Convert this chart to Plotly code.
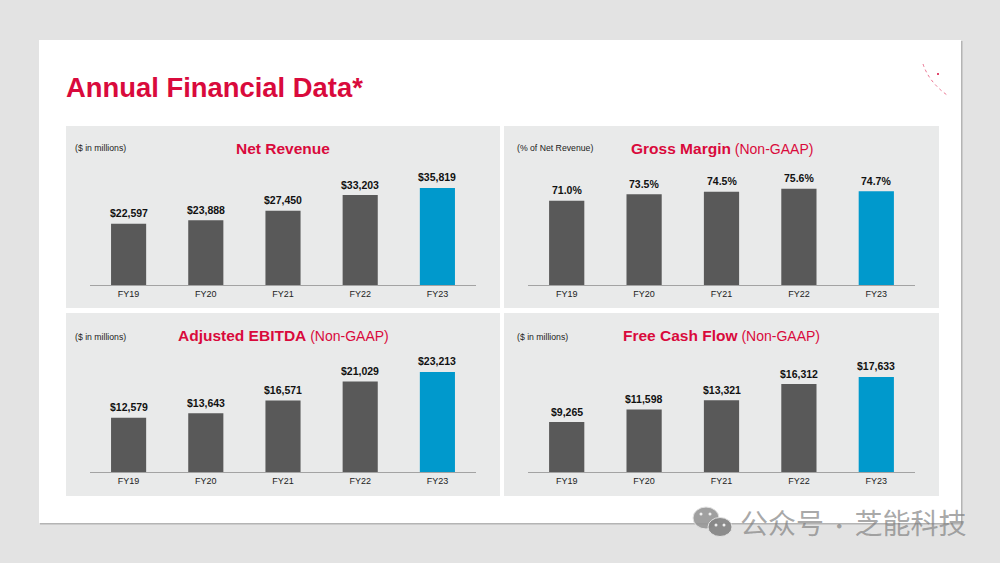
import plotly.graph_objects as go

W, H = 1000, 563

fiscal_years = ["FY19", "FY20", "FY21", "FY22", "FY23"]
net_revenue = [22597, 23888, 27450, 33203, 35819]
gross_margin = [71.0, 73.5, 74.5, 75.6, 74.7]
adjusted_ebitda = [12579, 13643, 16571, 21029, 23213]
free_cash_flow = [9265, 11598, 13321, 16312, 17633]

FONT = "Liberation Sans"
RED = "#d90a3c"
GREY = "#595959"
BLUE = "#0099cc"
PANEL = "#e9eaea"
bar_colors = [GREY, GREY, GREY, GREY, BLUE]


def px(x):
    return x / W


def py(y):
    return 1 - y / H


def rect(x0, y0, x1, y1, color):
    return dict(type="rect", xref="paper", yref="paper", x0=px(x0), x1=px(x1),
                y0=py(y0), y1=py(y1), fillcolor=color, line=dict(width=0), layer="below")


panels = [
    dict(values=net_revenue, fmt="${:,.0f}", rng=[0, 58700], box=(66, 126, 500, 308),
         plot=(90, 476, 126, 285), title="<b>Net Revenue</b>", title_x=283, title_y=148,
         unit="($ in millions)", unit_x=73, unit_y=148),
    dict(values=gross_margin, fmt="{:.1f}%", rng=[38.7, 99.7], box=(504, 126, 939, 308),
         plot=(528, 915, 126, 285),
         title="<b>Gross Margin</b><span style='font-size:14px'> (Non-GAAP)</span>",
         title_x=722, title_y=148, unit="(% of Net Revenue)", unit_x=515, unit_y=148),
    dict(values=adjusted_ebitda, fmt="${:,.0f}", rng=[0, 36900], box=(66, 313, 500, 496),
         plot=(90, 476, 313, 472),
         title="<b>Adjusted EBITDA</b><span style='font-size:14px'> (Non-GAAP)</span>",
         title_x=283, title_y=335, unit="($ in millions)", unit_x=73, unit_y=337),
    dict(values=free_cash_flow, fmt="${:,.0f}", rng=[0, 29500], box=(504, 313, 939, 496),
         plot=(528, 915, 313, 472),
         title="<b>Free Cash Flow</b><span style='font-size:14px'> (Non-GAAP)</span>",
         title_x=721.5, title_y=335, unit="($ in millions)", unit_x=515, unit_y=337),
]

fig = go.Figure()
shapes = [
    rect(40, 41, 962.5, 524.5, "#b4b4b4"),
    rect(39, 40, 961, 523, "#ffffff"),
]
annotations = [
    dict(text="<b>Annual Financial Data*</b>", x=px(64), y=py(88), xref="paper", yref="paper",
         xanchor="left", yanchor="middle", showarrow=False,
         font=dict(family=FONT, size=27.4, color=RED)),
]
layout_axes = {}

for i, p in enumerate(panels, start=1):
    x0, x1, top, base = p["plot"]
    shapes.append(rect(*p["box"], PANEL))
    fig.add_trace(go.Bar(
        x=fiscal_years, y=p["values"], xaxis=f"x{i}", yaxis=f"y{i}",
        marker=dict(color=bar_colors, line=dict(width=0)), width=0.455,
        showlegend=False, hoverinfo="x+y",
    ))
    for fy, v in zip(fiscal_years, p["values"]):
        annotations.append(dict(
            text=f"<b>{p['fmt'].format(v)}</b>", x=fy, y=v, xref=f"x{i}", yref=f"y{i}",
            xanchor="center", yanchor="bottom", yshift=2.5, showarrow=False,
            font=dict(family=FONT, size=10.5, color="#111111"),
        ))
    layout_axes[f"xaxis{i}"] = dict(
        domain=[px(x0), px(x1)], anchor=f"y{i}", type="category", showgrid=False,
        showline=True, linecolor="#a3a3a3", linewidth=1, ticks="", ticklen=0,
        tickfont=dict(family=FONT, size=9, color="#222222"), zeroline=False, fixedrange=True,
    )
    layout_axes[f"yaxis{i}"] = dict(
        domain=[py(base), py(top)], anchor=f"x{i}", range=p["rng"], visible=False,
        showgrid=False, zeroline=False, fixedrange=True,
    )
    annotations.append(dict(
        text=p["title"], x=px(p["title_x"]), y=py(p["title_y"]), xref="paper", yref="paper",
        xanchor="center", yanchor="middle", showarrow=False,
        font=dict(family=FONT, size=15.5, color=RED),
    ))
    annotations.append(dict(
        text=p["unit"], x=px(p["unit_x"]), y=py(p["unit_y"]), xref="paper", yref="paper",
        xanchor="left", yanchor="middle", showarrow=False,
        font=dict(family=FONT, size=8.7, color="#222222"),
    ))

# Corner ornament
shapes.append(dict(type="path", xref="paper", yref="paper", layer="above",
                   path=f"M {px(923)} {py(64)} Q {px(929)} {py(82)} {px(947)} {py(95)}",
                   line=dict(color="rgba(217,10,60,0.55)", width=1, dash="dot")))
shapes.append(dict(type="circle", xref="paper", yref="paper", layer="above",
                   x0=px(937), x1=px(939), y0=py(75), y1=py(73),
                   fillcolor=RED, line=dict(width=0)))

# Watermark icon: two chat bubbles with eyes
for cx, cy, rx, ry, col in [(706, 518, 13, 11, "rgba(150,150,150,0.9)"),
                            (720, 527, 12, 9.5, "rgba(135,135,135,0.95)")]:
    shapes.append(dict(type="circle", xref="paper", yref="paper", layer="above",
                       x0=px(cx - rx), x1=px(cx + rx), y0=py(cy + ry), y1=py(cy - ry),
                       fillcolor=col, line=dict(width=1, color="#e3e3e3")))
for cx, cy in [(701, 514), (710, 514), (716, 525), (724, 525)]:
    shapes.append(dict(type="circle", xref="paper", yref="paper", layer="above",
                       x0=px(cx - 1.5), x1=px(cx + 1.5), y0=py(cy + 1.5), y1=py(cy - 1.5),
                       fillcolor="#f0f0f0", line=dict(width=0)))
annotations.append(dict(
    text="公众号<span style='font-size:21px'> · </span>芝能科技", x=px(738), y=py(522),
    xref="paper", yref="paper", xanchor="left", yanchor="middle", showarrow=False,
    font=dict(family="Noto Sans CJK SC", size=28, color="rgba(125,125,125,0.68)"),
))

fig.update_layout(
    width=W, height=H, margin=dict(l=0, r=0, t=0, b=0),
    paper_bgcolor="#e3e3e3", plot_bgcolor="rgba(0,0,0,0)",
    shapes=shapes, annotations=annotations, **layout_axes,
)

fig.write_html("out.html", config={"displayModeBar": False},
               post_script="document.body.style.margin='0';document.body.style.overflow='hidden';")
